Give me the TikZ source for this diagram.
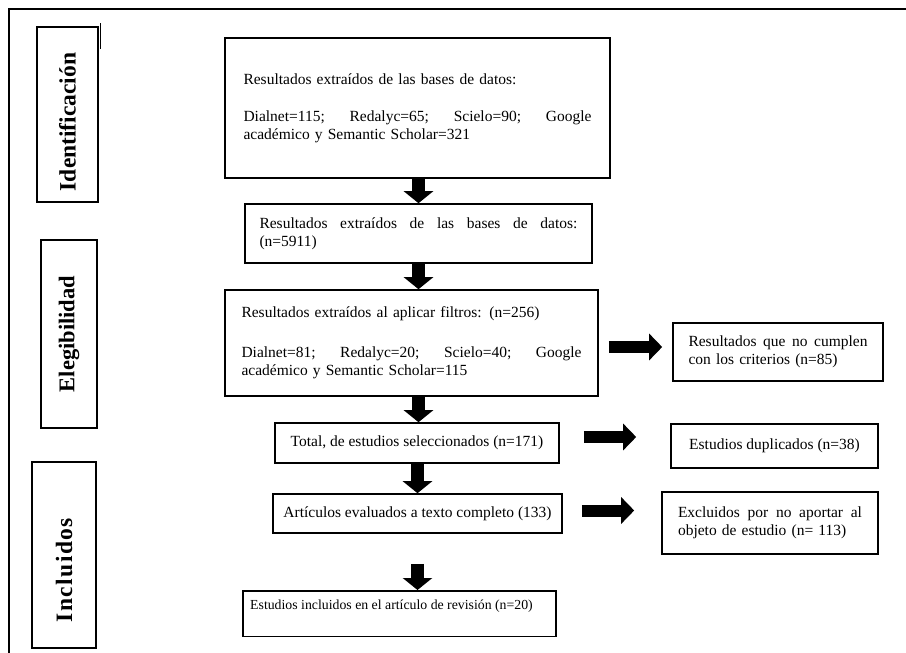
\documentclass[tikz,border=0pt]{standalone}
\usepackage{fontspec}
\setmainfont{Liberation Serif}
\usetikzlibrary{arrows.meta}
\tikzset{
  box/.style={draw, line width=1.6pt, inner sep=0pt, align=left,
    font=\fontsize{15.5}{18}\selectfont},
  lab/.style={draw, line width=1.6pt, rotate=90, inner sep=0pt,
    font=\fontsize{23.5}{25}\selectfont\bfseries},
  darrow/.style={line width=13pt, -{Triangle[width=29pt,length=12pt]}},
  rarrow/.style={line width=12pt, -{Triangle[width=26pt,length=13pt]}},
}
\begin{document}
\begin{tikzpicture}[x=1pt,y=-1pt]
  \useasboundingbox (0,0) rectangle (906,653);
  % frame
  \draw[line width=2.4pt] (906,9) -- (9,9) -- (9,653);
  \draw[line width=1pt] (100,23) -- (100,49);
  % stage labels
  \node[lab, minimum width=175pt, minimum height=61pt] (ident) at (67.5,114.5) {Identificación\hspace{15pt}\null};
  \node[lab, minimum width=188pt, minimum height=56pt, font=\fontsize{22.5}{24}\selectfont\bfseries] (elig) at (69,334) {Elegibilidad};
  \node[lab, minimum width=186pt, minimum height=64pt] (incl) at (64,555) {\addfontfeatures{LetterSpace=6}Incluidos\hspace{30pt}\null};
  % main column
  \node[box, minimum width=385pt, minimum height=140pt, text width=348pt] (busq) at (417.5,108)
    {Resultados extraídos de las bases de datos:\\[19pt]
     Dialnet=115;\hfill Redalyc=65;\hfill Scielo=90;\hfill Google\\
     académico y Semantic Scholar=321\par\vspace{10pt}};
  \node[box, minimum width=347pt, minimum height=59pt, text width=318pt] (res) at (418.5,233.5)
    {Resultados \hfill extraídos \hfill de \hfill las \hfill bases \hfill de \hfill datos:\\
     (n=5911)};
  \node[box, minimum width=373pt, minimum height=106pt, text width=340pt] (filt) at (411.5,343)
    {Resultados extraídos al aplicar filtros: (n=256)\\[22pt]
     Dialnet=81;\hfill Redalyc=20;\hfill Scielo=40;\hfill Google\\
     académico y Semantic Scholar=115\par\vspace{29pt}};
  \node[box, minimum width=284pt, minimum height=40pt, align=center] (sel) at (417,443)
    {Total, de estudios seleccionados (n=171)};
  \node[box, minimum width=289pt, minimum height=39pt, align=center] (eval) at (417.5,513.5)
    {Artículos evaluados a texto completo (133)};
  \node[box, anchor=north, minimum width=313pt, inner ysep=9pt, text depth=18pt, align=center,
    font=\fontsize{13.8}{16}\selectfont] (inc) at (399.5,590)
    {Estudios incluidos en el artículo de revisión (n=20)\hspace{16pt}\null};
  % excluded column
  \node[box, minimum width=210pt, minimum height=58pt, text width=179pt] (nocump) at (778,352)
    {Resultados \hfill que \hfill no \hfill cumplen\\
     con los criterios (n=85)};
  \node[box, minimum width=207pt, minimum height=44pt, align=center] (dup) at (774.5,446)
    {Estudios duplicados (n=38)};
  \node[box, minimum width=216pt, minimum height=62pt, text width=184pt] (excl) at (770,523)
    {Excluidos \hfill por \hfill no \hfill aportar \hfill al\\
     objeto de estudio (n= 113)};
  % arrows
  \draw[darrow] (busq.south -| res.south) -- (res.north);
  \draw[darrow] (res.south) -- (filt.north -| res.south);
  \draw[darrow] (filt.south -| res.south) -- (sel.north -| res.south);
  \draw[darrow] (sel.south -| eval.south) -- (eval.north);
  \draw[darrow, shorten <=30pt] (eval.south) -- (inc.north -| eval.south);
  \draw[rarrow, shorten <=10pt, shorten >=10pt] ([yshift=-4pt]filt.east) -- ([yshift=-4pt]filt.east -| nocump.west);
  \draw[rarrow, shorten <=24pt, shorten >=34pt] ([yshift=6pt]sel.east) -- ([yshift=6pt]sel.east -| dup.west);
  \draw[rarrow, shorten <=19pt, shorten >=27pt] ([yshift=3pt]eval.east) -- ([yshift=3pt]eval.east -| excl.west);
\end{tikzpicture}
\end{document}
